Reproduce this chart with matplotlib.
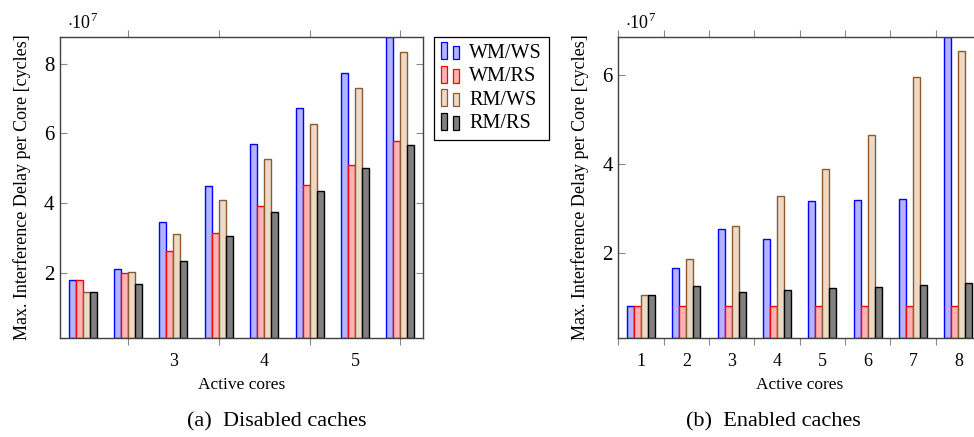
"""
Max. interference delay per core, disabled vs enabled caches (two grouped bar panels).
"""

import matplotlib
matplotlib.use("Agg")
import matplotlib.pyplot as plt
import numpy as np
from matplotlib.container import BarContainer
from matplotlib.legend_handler import HandlerBase
from matplotlib.patches import Rectangle

plt.rcParams["font.family"] = ["Liberation Serif", "DejaVu Serif"]
plt.rcParams["mathtext.fontset"] = "custom"
plt.rcParams["mathtext.rm"] = "Liberation Serif"

SERIES = ["WM/WS", "WM/RS", "RM/WS", "RM/RS"]
FILLS  = ["#b3b3ff", "#ffb3b3", "#ecd9c6", "#808080"]
EDGES  = ["#0000ff", "#ff0000", "#8c5a2e", "#000000"]

# values in units of 1e7 cycles, groups 1..8
DISABLED = {
    "WM/WS": [1.80, 2.11, 3.46, 4.50, 5.69, 6.73, 7.74, 8.78],
    "WM/RS": [1.80, 1.99, 2.63, 3.14, 3.91, 4.51, 5.09, 5.78],
    "RM/WS": [1.44, 2.02, 3.10, 4.08, 5.26, 6.27, 7.30, 8.33],
    "RM/RS": [1.44, 1.66, 2.34, 3.06, 3.74, 4.35, 5.01, 5.67],
}
ENABLED = {
    "WM/WS": [0.83, 1.67, 2.55, 2.32, 3.18, 3.20, 3.23, 6.875],
    "WM/RS": [0.83, 0.83, 0.83, 0.83, 0.83, 0.83, 0.83, 0.83],
    "RM/WS": [1.07, 1.87, 2.61, 3.29, 3.90, 4.66, 5.96, 6.55],
    "RM/RS": [1.07, 1.27, 1.13, 1.18, 1.22, 1.24, 1.28, 1.34],
}
GROUPS = [1, 2, 3, 4, 5, 6, 7, 8]

# odd pgfplots tick layout of the left panel
LEFT_TICKS       = [2, 4, 6, 8]
LEFT_LABEL_POS   = [3, 5, 7]
LEFT_LABELS      = ["3", "4", "5"]
RIGHT_TICKS      = [0.5, 1.5, 2.5, 3.5, 4.5, 5.5, 6.5, 7.5, 8.5]
RIGHT_LABELS     = ["1", "2", "3", "4", "5", "6", "7", "8"]

FS = 13
BAR_W = 0.154


class TwoBars(HandlerBase):
    def create_artists(self, legend, orig_handle, xdescent, ydescent,
                       width, height, fontsize, trans):
        p = orig_handle.patches[0]
        fc, ec = p.get_facecolor(), p.get_edgecolor()
        w = width * 0.3
        r1 = Rectangle((-xdescent, -ydescent - 0.1 * height), w, height * 1.2,
                       facecolor=fc, edgecolor=ec, lw=0.9, transform=trans)
        r2 = Rectangle((-xdescent + width * 0.62, -ydescent - 0.1 * height), w, height * 0.95,
                       facecolor=fc, edgecolor=ec, lw=0.9, transform=trans)
        return [r1, r2]


def draw_panel(ax, data, ylim, yticks):
    x = np.array(GROUPS, dtype=float)
    for i, name in enumerate(SERIES):
        ax.bar(x + (i - 1.5) * BAR_W, np.array(data[name]) - ylim[0], BAR_W,
               bottom=ylim[0], color=FILLS[i], edgecolor=EDGES[i], linewidth=1.0,
               label=name, zorder=2)
    ax.set_xlim(0.5, 8.5)
    ax.set_ylim(*ylim)
    ax.set_yticks(yticks)
    ax.set_yticklabels([str(int(t)) for t in yticks], fontsize=15)
    ax.tick_params(axis="y", direction="in", left=True, right=True, length=5,
                   color="#888888", pad=4)
    ax.tick_params(axis="x", which="major", direction="out", top=True, bottom=True,
                   length=5, color="#888888", labelbottom=False)
    ax.tick_params(axis="x", which="minor", length=0, pad=11, labelsize=FS)
    for sp in ax.spines.values():
        sp.set_color("#404040")
        sp.set_linewidth(1.0)
    ax.set_ylabel("Max. Interference Delay per Core [cycles]", fontsize=FS)
    ax.yaxis.set_label_coords(-38 / 363, 0.5)
    ax.yaxis.label.set_va("center")
    ax.set_xlabel("Active cores", fontsize=12.5)
    ax.xaxis.set_label_coords(0.5, -0.156)
    ax.xaxis.label.set_va("center")
    ax.text(0.019, 1.0 + 14 / 301, r"$\cdot10^{7}$", transform=ax.transAxes,
            fontsize=FS, ha="left", va="center")


fig = plt.figure(figsize=(9.74, 4.37), dpi=100)
ax1 = fig.add_axes([60 / 974, 99 / 437, 363 / 974, 301.5 / 437])
ax2 = fig.add_axes([618.3 / 974, 99 / 437, 362.7 / 974, 301.5 / 437])

draw_panel(ax1, DISABLED, (0.12, 8.78), [2, 4, 6, 8])
ax1.set_xticks(LEFT_TICKS)
ax1.set_xticks(LEFT_LABEL_POS, minor=True)
ax1.set_xticklabels(LEFT_LABELS, minor=True)

draw_panel(ax2, ENABLED, (0.10, 6.875), [2, 4, 6])
ax2.set_xticks(RIGHT_TICKS)
ax2.set_xticks(GROUPS, minor=True)
ax2.set_xticklabels(RIGHT_LABELS, minor=True)

leg = ax1.legend(handler_map={BarContainer: TwoBars()},
                 loc="upper left", bbox_to_anchor=(1.03, 1.0), fontsize=14.5,
                 handlelength=1.0, handletextpad=0.4, labelspacing=0.22,
                 borderpad=0.35, borderaxespad=0, fancybox=False, framealpha=1)
leg.get_frame().set_edgecolor("black")
leg.get_frame().set_linewidth(0.9)

fig.text(277 / 974, 1 - 421.7 / 437, "(a)  Disabled caches", fontsize=16,
         ha="center", va="center")
fig.text(773.6 / 974, 1 - 421.7 / 437, "(b)  Enabled caches", fontsize=16,
         ha="center", va="center")

fig.savefig("out.png", dpi=100)
